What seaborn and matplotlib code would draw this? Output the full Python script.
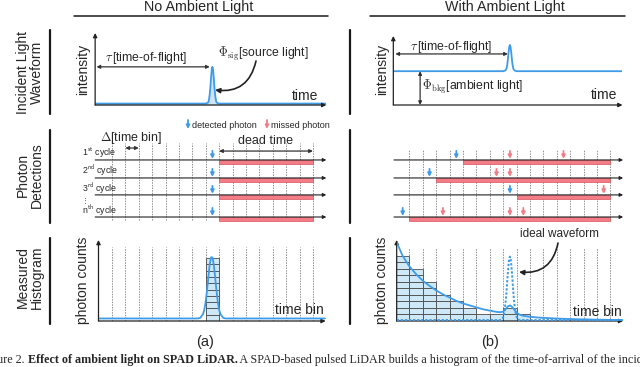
import numpy as np
import matplotlib.pyplot as plt
import seaborn as sns

# ---------------- dados ----------------
# bordas dos bins de tempo (linhas pontilhadas), em unidades de bin
bordas = list(range(1, 17))
fim_bins = 16

# forma de onda incidente (tempo em bins, intensidade normalizada)
t_onda = [-0.25, 8.0, 8.15, 8.2, 8.25, 8.3, 8.35, 8.4, 8.45, 8.5,
          8.55, 8.6, 8.65, 8.7, 8.75, 8.8, 8.85, 9.0, 17.0]
onda_sem = [0.02, 0.02, 0.03, 0.04, 0.08, 0.15, 0.25, 0.38, 0.49, 0.53,
            0.49, 0.38, 0.25, 0.15, 0.08, 0.04, 0.03, 0.02, 0.02]
onda_com = [0.49, 0.49, 0.50, 0.51, 0.53, 0.58, 0.66, 0.76, 0.84, 0.87,
            0.84, 0.76, 0.66, 0.58, 0.53, 0.51, 0.50, 0.49, 0.49]

# deteccoes por ciclo (posicao em bins)
det_sem = [8.5, 8.5, 8.5, 8.5]
det_com = [4.5, 2.5, 8.5, 0.5]
perdidos_com = [[8.5, 12.5], [7.5, 8.5], [15.5], [3.5, 8.5, 9.5]]
y_ciclos = [3.48, 2.47, 1.52, 0.28]
rotulos_ciclos = ["1$^{\\mathsf{st}}$ cycle", "2$^{\\mathsf{nd}}$ cycle",
                  "3$^{\\mathsf{rd}}$ cycle", "n$^{\\mathsf{th}}$ cycle"]

# histogramas medidos (contagens por bin)
contagem_sem = [0, 0, 0, 0, 0, 0, 0, 0, 10, 0, 0, 0, 0, 0, 0, 0]
contagem_com = [10, 8, 6, 4, 3, 2, 1, 1, 2, 1, 0, 0, 0, 0, 0, 0]

# curva medida sem luz ambiente
t_hist_sem = [0.0, 7.4, 7.6, 7.8, 7.9, 8.0, 8.1, 8.2, 8.3, 8.4,
              8.5, 8.6, 8.7, 8.8, 8.9, 9.0, 9.1, 9.3, 9.5, 16.9]
curva_sem = [0.4, 0.4, 0.5, 1.1, 1.8, 3.1, 4.9, 7.0, 9.0, 10.1,
             10.1, 9.0, 7.0, 4.9, 3.1, 1.8, 1.1, 0.5, 0.4, 0.4]

# curva medida com luz ambiente (empilhamento)
t_hist_com = [0.05, 0.5, 1, 1.5, 2, 2.5, 3, 3.5, 4, 4.5, 5, 5.5, 6, 6.5, 7, 7.5,
              7.8, 8.0, 8.2, 8.35, 8.5, 8.65, 8.8, 9.0, 9.2, 9.5, 10, 10.5,
              11, 12, 13, 14, 15, 16.9]
curva_com = [12.1, 10.0, 8.4, 7.2, 6.2, 5.4, 4.7, 4.1, 3.6, 3.1, 2.7, 2.4, 2.1,
             1.8, 1.6, 1.4, 1.35, 1.45, 1.85, 2.25, 2.4, 2.2, 1.8, 1.3, 1.0,
             0.8, 0.65, 0.55, 0.48, 0.38, 0.3, 0.25, 0.2, 0.15]

# forma de onda ideal (pontilhada)
t_ideal = [0.05, 7.8, 7.9, 8.0, 8.1, 8.2, 8.25, 8.3, 8.35, 8.4, 8.45, 8.5,
           8.55, 8.6, 8.65, 8.7, 8.75, 8.8, 8.9, 9.0, 9.1, 9.2, 16.9]
curva_ideal = [0.15, 0.15, 0.25, 0.6, 1.5, 3.3, 4.6, 6.1, 7.5, 8.75, 9.6, 9.9,
               9.6, 8.75, 7.5, 6.1, 4.6, 3.3, 1.5, 0.6, 0.25, 0.15, 0.15]

# ---------------- estilo ----------------
sns.set_theme(style="white")
plt.rcParams["font.family"] = ["Liberation Sans", "DejaVu Sans"]
plt.rcParams["mathtext.fontset"] = "cm"

azul = "#3d9be9"
vermelho = "#f47c86"
preench = "#cfe8f7"
cinza = "#8f8f8f"
preto = "#222222"

L, H = 640, 367
fig = plt.figure(figsize=(6.4, 3.67), dpi=100)
origem = {"a": 98.5, "b": 396.0}
passo = 13.4  # largura de um bin em pixels


def painel(col, b0, b1, y0, y1, ylim):
    """cria um eixo posicionado em pixels, com x em unidades de bin"""
    x0 = origem[col] + passo * b0
    x1 = origem[col] + passo * b1
    ax = fig.add_axes([x0 / L, 1 - y1 / H, (x1 - x0) / L, (y1 - y0) / H])
    ax.set_xlim(b0, b1)
    ax.set_ylim(*ylim)
    ax.axis("off")
    ax.patch.set_visible(False)
    return ax


def eixos(ax):
    seta = dict(arrowstyle="-|>", color=preto, lw=0.9, mutation_scale=6, shrinkA=0, shrinkB=0)
    ax.annotate("", xy=(1, 0), xytext=(0, 0), xycoords="axes fraction", arrowprops=seta)
    ax.annotate("", xy=(0, 1), xytext=(0, 0), xycoords="axes fraction", arrowprops=seta)


def dupla(ax, p0, p1, coords="data"):
    ax.annotate("", xy=p1, xytext=p0, xycoords=coords,
                arrowprops=dict(arrowstyle="<|-|>", color="#333", lw=0.9,
                                mutation_scale=5, shrinkA=0, shrinkB=0))


def setinha(ax, x, y, cor, comp=0.45):
    ax.annotate("", xy=(x, y + 0.06), xytext=(x, y + 0.06 + comp),
                arrowprops=dict(arrowstyle="-|>", color=cor, lw=1.3,
                                mutation_scale=5, shrinkA=0, shrinkB=0))


# ---------------- linha 1: forma de onda ----------------
ax1 = painel("a", -0.25, 17.0, 33, 105, (0, 1))
eixos(ax1)
ax1.fill_between(t_onda, 0, onda_sem, color=azul, alpha=0.25, lw=0)
sns.lineplot(x=t_onda, y=onda_sem, ax=ax1, color=azul, lw=1.3)
dupla(ax1, (-0.15, 0.53), (8.3, 0.53))
ax1.set_xlim(-0.25, 17.0)
ax1.set_ylim(0, 1)

ax2 = painel("b", -0.2, 16.9, 36, 105, (0, 1))
eixos(ax2)
sns.lineplot(x=t_onda, y=onda_com, ax=ax2, color=azul, lw=1.3)
dupla(ax2, (-0.05, 0.74), (8.35, 0.74))
dupla(ax2, (1.8, 0.0), (1.8, 0.49))
ax2.set_xlim(-0.2, 16.9)
ax2.set_ylim(0, 1)


# ---------------- linha 2: deteccoes ----------------
def deteccoes(ax, det, perdidos, y_topo):
    ax.vlines(bordas, 0.11, y_topo, colors=cinza, linestyles=(0, (1.5, 1.2)), lw=0.7)
    for y, d, perd in zip(y_ciclos, det, perdidos):
        inicio = np.floor(d) + 1
        ax.barh(y - 0.12, fim_bins - inicio, left=inicio, height=0.2,
                color=vermelho, edgecolor="#d9545c", lw=0.5, zorder=3)
        ax.annotate("", xy=(1, y), xytext=(0, y), xycoords=("axes fraction", "data"),
                    arrowprops=dict(arrowstyle="-|>", color=preto, lw=0.8,
                                    mutation_scale=5, shrinkA=0, shrinkB=0), zorder=4)
        setinha(ax, d, y, azul)
        for p in perd:
            setinha(ax, p, y, vermelho)


ax3 = painel("a", -0.25, 17.0, 140, 222, (0, 4.6))
deteccoes(ax3, det_sem, [[], [], [], []], 4.43)
dupla(ax3, (2, 4.15), (3, 4.15))
dupla(ax3, (9, 3.98), (16, 3.98))
ax3.set_xlim(-0.25, 17.0)
ax3.set_ylim(0, 4.6)

ax4 = painel("b", -0.15, 16.95, 140, 222, (0, 4.6))
deteccoes(ax4, det_com, perdidos_com, 4.04)
ax4.set_xlim(-0.15, 16.95)
ax4.set_ylim(0, 4.6)


# ---------------- linha 3: histogramas ----------------
def histograma(ax, contagem, y_topo):
    ax.vlines(bordas, 0, y_topo, colors=cinza, linestyles=(0, (1.5, 1.2)), lw=0.7)
    centros = np.arange(len(contagem)) + 0.5
    cont = np.array(contagem)
    for k in range(cont.max()):
        sel = cont > k
        ax.bar(centros[sel], 1, bottom=k, width=1, color=preench,
               edgecolor="#4a4a4a", lw=0.6, zorder=2)


ax5 = painel("a", 0.0, 16.95, 240, 321, (0, 12.86))
histograma(ax5, contagem_sem, 11.7)
sns.lineplot(x=t_hist_sem, y=curva_sem, ax=ax5, color=azul, lw=1.3, zorder=5)
eixos(ax5)
ax5.set_xlim(0.0, 16.95)
ax5.set_ylim(0, 12.86)

ax6 = painel("b", 0.05, 16.95, 240, 321, (0, 12.46))
histograma(ax6, contagem_com, 11.2)
sns.lineplot(x=t_hist_com, y=curva_com, ax=ax6, color=azul, lw=1.3, zorder=5)
sns.lineplot(x=t_ideal, y=curva_ideal, ax=ax6, color=azul, lw=1.4,
             linestyle=(0, (1.2, 0.9)), zorder=5)
eixos(ax6)
ax6.set_xlim(0.05, 16.95)
ax6.set_ylim(0, 12.46)

# ---------------- textos e anotacoes (coordenadas em pixels) ----------------
fd = fig.add_axes([0, 0, 1, 1], zorder=10)
fd.set_xlim(0, L)
fd.set_ylim(H, 0)
fd.axis("off")
fd.patch.set_visible(False)

fd.text(199, 7, "No Ambient Light", ha="center", va="center", fontsize=10.3)
fd.text(505, 7, "With Ambient Light", ha="center", va="center", fontsize=10.3)
fd.plot([74, 328], [16, 16], color="k", lw=1.1)
fd.plot([370, 625], [16, 16], color="k", lw=1.1)

for rotulo, yc, (ya, yb) in [("Incident Light\nWaveform", 72, (30, 114)),
                             ("Photon\nDetections", 175, (130, 223)),
                             ("Measured\nHistogram", 277, (238, 324))]:
    fd.text(30, yc, rotulo, rotation=90, ha="center", va="center",
            fontsize=10, linespacing=0.95)
    fd.plot([50, 50], [ya, yb], color="k", lw=1.6)
    fd.plot([350, 350], [ya, yb], color="k", lw=1.6)

# linha 1
for xc in (83, 382):
    fd.text(xc, 69, "intensity", rotation=90, ha="center", va="center", fontsize=10)
fd.text(318, 96, "time", ha="right", va="center", fontsize=10)
fd.text(617, 95, "time", ha="right", va="center", fontsize=10)
fd.text(146, 58, r"$\tau\,$[time-of-flight]", ha="center", va="center", fontsize=8.8)
fd.text(451, 47, r"$\tau\,$[time-of-flight]", ha="center", va="center", fontsize=8.8)
fd.text(218, 53, r"$\Phi_{\mathrm{sig}}$[source light]", ha="left", va="center", fontsize=8.8)
fd.text(422, 86, r"$\Phi_{\mathrm{bkg}}$[ambient light]", ha="left", va="center", fontsize=8.8)
curva = dict(arrowstyle="-|>", connectionstyle="arc3,rad=-0.45", color=preto,
             lw=1.2, mutation_scale=7, shrinkA=0, shrinkB=0)
fd.annotate("", xy=(215, 90), xytext=(256, 61), arrowprops=curva)

# linha 2
fd.text(100, 138, r"$\Delta$[time bin]", ha="left", va="center", fontsize=9)
fd.text(265, 141, "dead time", ha="center", va="center", fontsize=9)
for xs, cor, texto in [(188, azul, "detected photon"), (267, vermelho, "missed photon")]:
    fd.annotate("", xy=(xs, 129), xytext=(xs, 120),
                arrowprops=dict(arrowstyle="-|>", color=cor, lw=1.3,
                                mutation_scale=5, shrinkA=0, shrinkB=0))
    fd.text(xs + 4, 125, texto, ha="left", va="center", fontsize=6.5)
for rot, yy in zip(rotulos_ciclos, [153, 171, 189, 211]):
    fd.text(82, yy, rot, ha="left", va="center", fontsize=6.3)
fd.text(85, 200, "\u22ee", family=["DejaVu Sans"], ha="center", va="center", fontsize=5)

# linha 3
for xc in (83, 382):
    fd.text(xc, 280, "photon counts", rotation=90, ha="center", va="center", fontsize=10)
fd.text(324, 310, "time bin", ha="right", va="center", fontsize=10)
fd.text(622, 312, "time bin", ha="right", va="center", fontsize=10)
fd.text(560, 234, "ideal waveform", ha="center", va="center", fontsize=8.5)
fd.annotate("", xy=(519, 272), xytext=(558, 243), arrowprops=curva)
fd.text(205, 342, "(a)", ha="center", va="center", fontsize=10.5)
fd.text(490, 342, "(b)", ha="center", va="center", fontsize=10.5)

# legenda da figura (cortada nas bordas, como no original)
serif = ["Liberation Serif", "DejaVu Serif"]
t1 = fd.text(-19, 363, "Figure 2. ", family=serif, fontsize=8.7, va="baseline")
t2 = fd.annotate("Effect of ambient light on SPAD LiDAR.", xy=(1, 0), xycoords=t1,
                 ha="left", va="bottom", family=serif, fontsize=8.7, weight="bold")
fd.annotate(" A SPAD-based pulsed LiDAR builds a histogram of the time-of-arrival of the incident photons",
            xy=(1, 0), xycoords=t2, ha="left", va="bottom", family=serif, fontsize=8.7)

fig.savefig("out.png", dpi=100, facecolor="white")
